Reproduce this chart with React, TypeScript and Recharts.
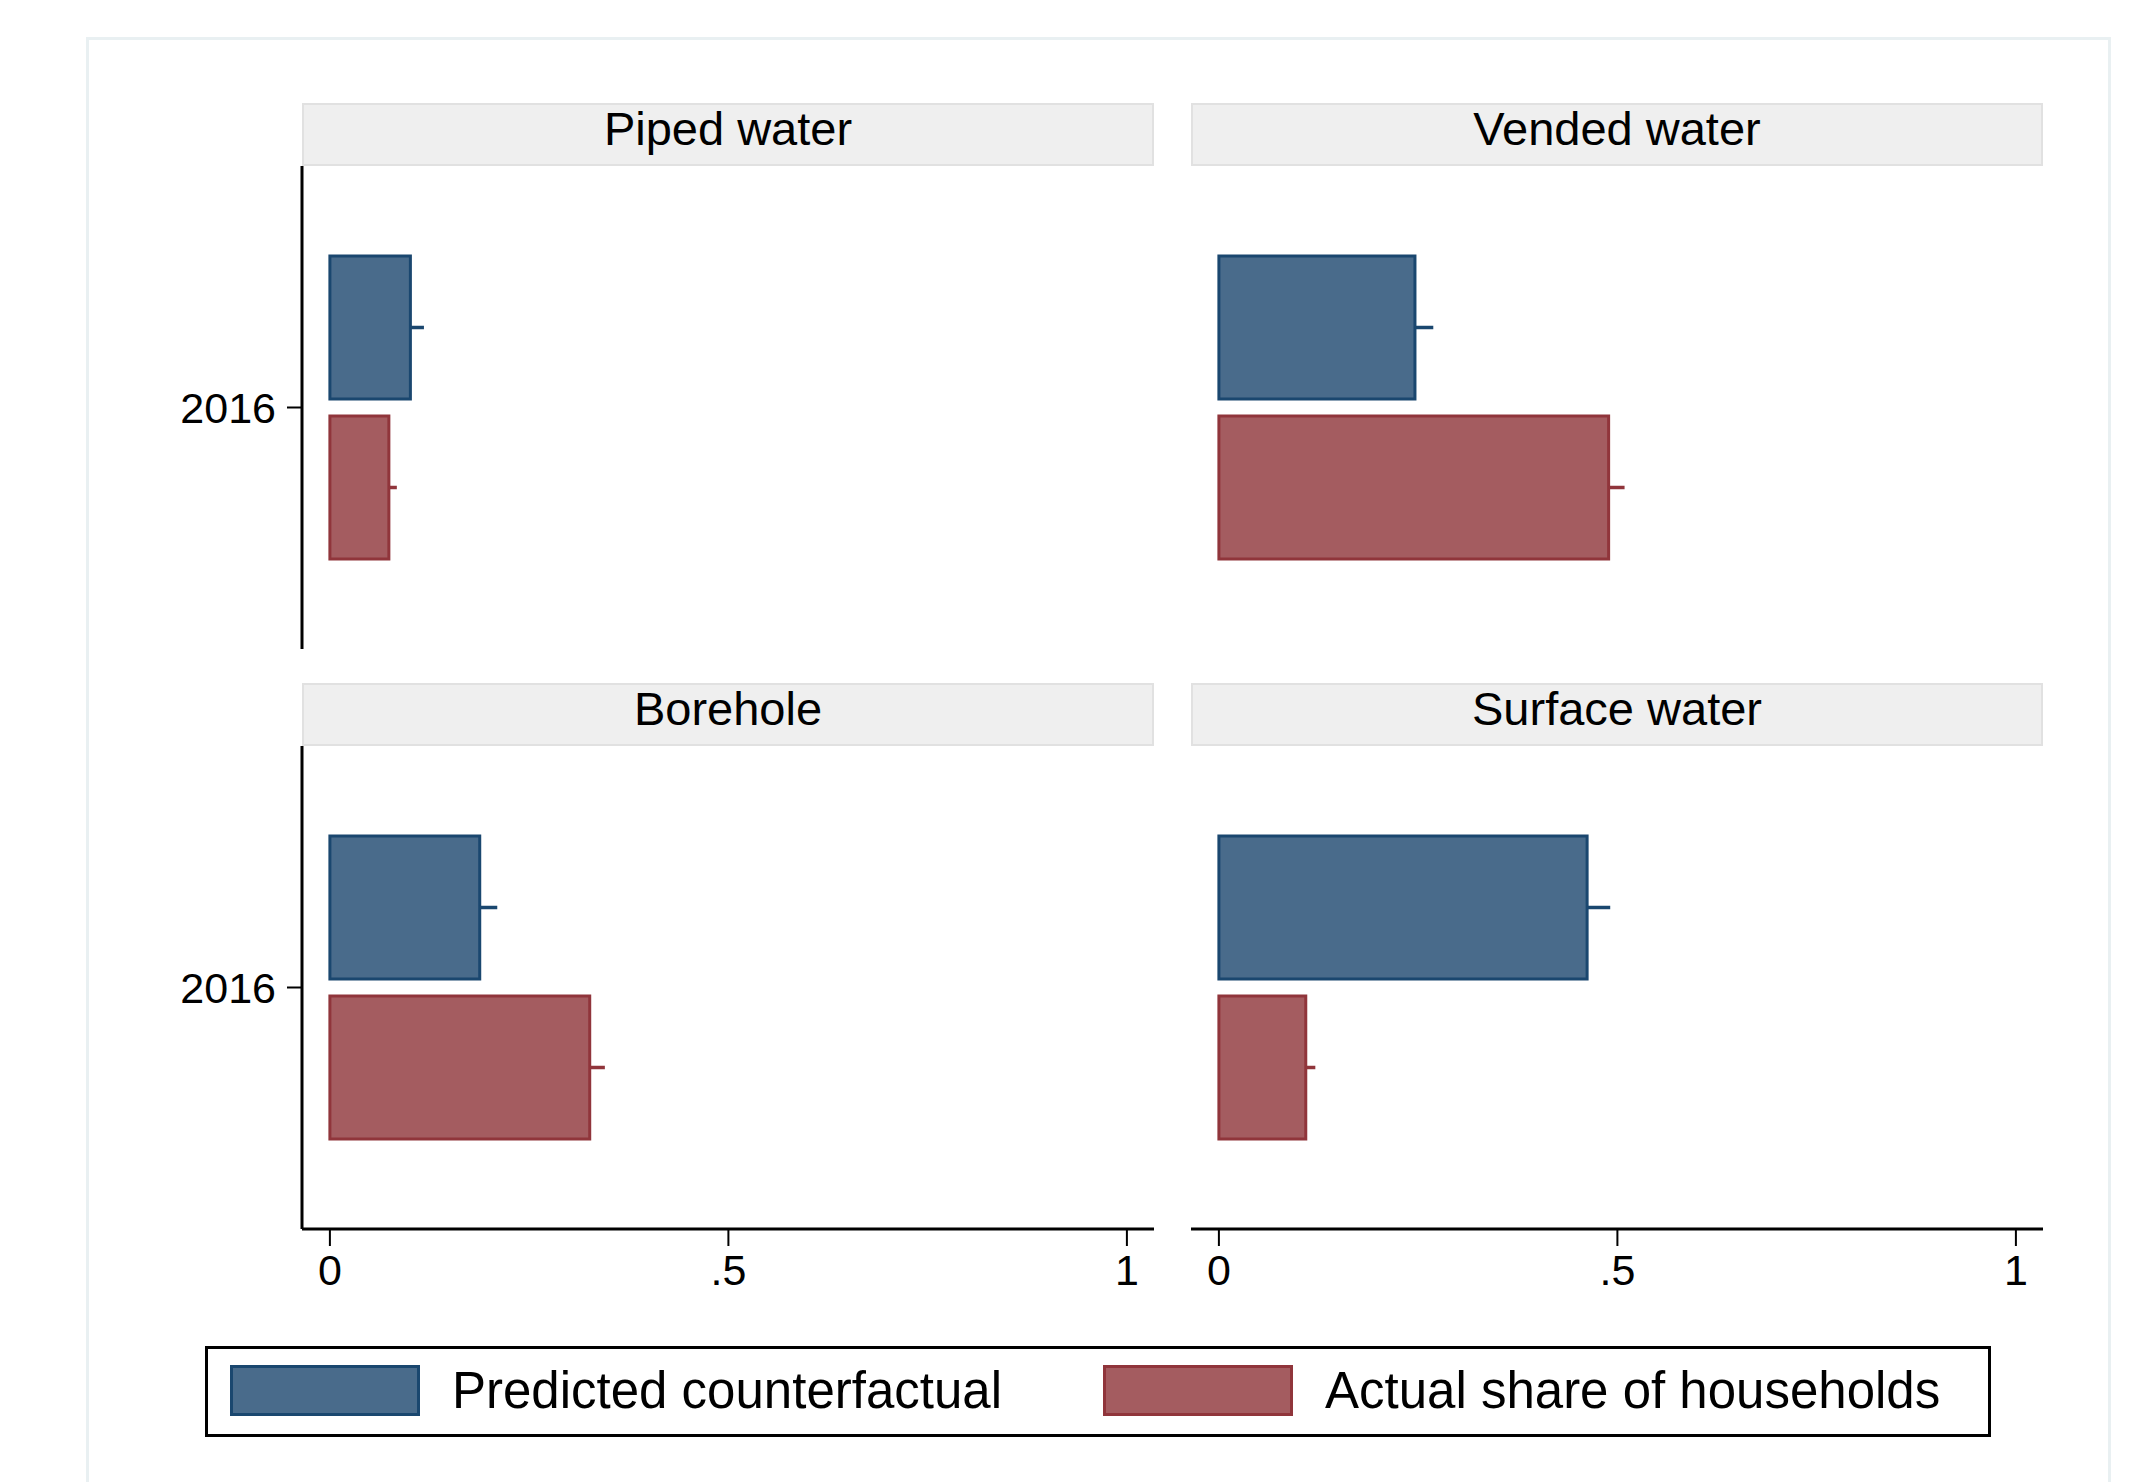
import React from 'react';
import { BarChart, Bar, XAxis, YAxis, ErrorBar } from 'recharts';

const panels = ['Piped water', 'Vended water', 'Borehole', 'Surface water'];
const years = ['2016'];
const predicted = [0.101, 0.246, 0.188, 0.462];
const predictedUpper = [0.118, 0.269, 0.21, 0.491];
const actual = [0.074, 0.489, 0.326, 0.109];
const actualUpper = [0.084, 0.509, 0.345, 0.121];
const seriesNames = ['Predicted counterfactual', 'Actual share of households'];
const xTicks = [0, 0.5, 1];

const FONT = '"Liberation Sans", Arial, Helvetica, sans-serif';
const BLUE = { fill: '#496b8b', stroke: '#1a476f' };
const RED = { fill: '#a45c60', stroke: '#90353b' };

const PLOT_W = 852;
const PLOT_H = 483;
const COL_X = [302, 1191];
const ROW_Y = [166, 746];
const STRIP_H = 63;
const YAXIS_W = 200;
const XAXIS_H = 90;

const fmtTick = (v: number) => (v === 0.5 ? '.5' : String(v));

const Panel: React.FC<{ i: number }> = ({ i }) => {
  const row = Math.floor(i / 2);
  const col = i % 2;
  const showY = col === 0;
  const showX = row === 1;

  const data = years.map((y) => ({
    year: y,
    predicted: predicted[i],
    actual: actual[i],
    predErr: [0, predictedUpper[i] - predicted[i]],
    actErr: [0, actualUpper[i] - actual[i]],
  }));

  const w = PLOT_W + (showY ? YAXIS_W : 0);
  const h = PLOT_H + (showX ? XAXIS_H : 0);

  return (
    <>
      {/* strip title */}
      <div
        style={{
          position: 'absolute',
          left: COL_X[col],
          top: ROW_Y[row] - STRIP_H,
          width: PLOT_W,
          height: STRIP_H,
          boxSizing: 'border-box',
          background: '#efefef',
          border: '2px solid #e1e1e1',
          fontFamily: FONT,
          fontSize: 47,
          lineHeight: `${STRIP_H - 16}px`,
          textAlign: 'center',
          color: '#000',
        }}
      >
        {panels[i]}
      </div>
      <div style={{ position: 'absolute', left: COL_X[col] - (showY ? YAXIS_W : 0), top: ROW_Y[row] }}>
        <BarChart
          width={w}
          height={h}
          data={data}
          layout="vertical"
          margin={{ top: 0, right: 0, bottom: 0, left: 0 }}
          barSize={143}
          barGap={17}
        >
          <XAxis
            type="number"
            domain={[-0.035, 1.034]}
            allowDataOverflow
            ticks={xTicks}
            tickFormatter={fmtTick}
            hide={!showX}
            height={XAXIS_H}
            axisLine={{ stroke: '#000', strokeWidth: 3 }}
            tickLine={{ stroke: '#000', strokeWidth: 2 }}
            tickSize={17}
            tickMargin={8}
            tick={{ fill: '#000', fontSize: 43, fontFamily: FONT }}
          />
          <YAxis
            type="category"
            dataKey="year"
            hide={!showY}
            width={YAXIS_W}
            axisLine={{ stroke: '#000', strokeWidth: 3 }}
            tickLine={{ stroke: '#000', strokeWidth: 2 }}
            tickSize={15}
            tickMargin={11}
            tick={{ fill: '#000', fontSize: 43, fontFamily: FONT }}
          />
          <Bar dataKey="predicted" fill={BLUE.fill} stroke={BLUE.stroke} strokeWidth={3} isAnimationActive={false}>
            <ErrorBar dataKey="predErr" direction="x" width={0} stroke={BLUE.stroke} strokeWidth={3.5} />
          </Bar>
          <Bar dataKey="actual" fill={RED.fill} stroke={RED.stroke} strokeWidth={3} isAnimationActive={false}>
            <ErrorBar dataKey="actErr" direction="x" width={0} stroke={RED.stroke} strokeWidth={3.5} />
          </Bar>
        </BarChart>
      </div>
    </>
  );
};

const LEGEND_ITEM_X = [22, 895];

export default function App() {
  const colors = [BLUE, RED];
  return (
    <div
      style={{
        position: 'absolute',
        left: 0,
        top: 0,
        width: 2129,
        height: 1482,
        overflow: 'hidden',
        background: '#fff',
        fontFamily: FONT,
      }}
    >
      {/* outer graph region */}
      <div
        style={{
          position: 'absolute',
          left: 86,
          top: 37,
          width: 2025,
          height: 1500,
          boxSizing: 'border-box',
          border: '3px solid #e9f0f2',
        }}
      />
      {panels.map((_, i) => (
        <Panel key={i} i={i} />
      ))}
      {/* legend */}
      <div
        style={{
          position: 'absolute',
          left: 205,
          top: 1346,
          width: 1786,
          height: 91,
          boxSizing: 'border-box',
          border: '3px solid #000',
        }}
      >
        {seriesNames.map((name, k) => (
          <div key={name} style={{ position: 'absolute', left: LEGEND_ITEM_X[k], top: 16, display: 'flex', alignItems: 'center' }}>
            <div
              style={{
                width: 190,
                height: 51,
                boxSizing: 'border-box',
                background: colors[k].fill,
                border: `3px solid ${colors[k].stroke}`,
              }}
            />
            <span style={{ marginLeft: 32, fontSize: 51, lineHeight: '50px', color: '#000', whiteSpace: 'nowrap' }}>
              {name}
            </span>
          </div>
        ))}
      </div>
    </div>
  );
}
